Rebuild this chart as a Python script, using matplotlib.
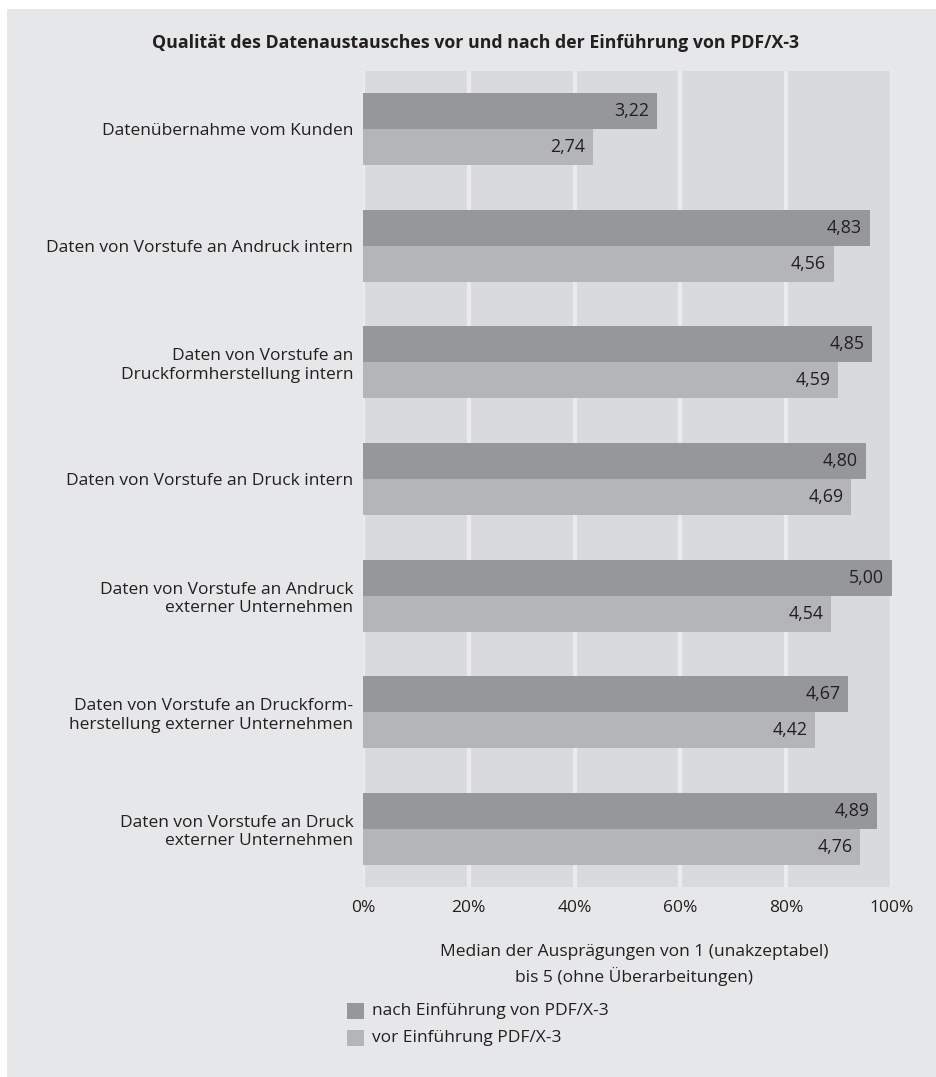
import matplotlib.pyplot as plt
from matplotlib.patches import Rectangle
import numpy as np

plt.rcParams['font.family'] = ['Open Sans', 'DejaVu Sans']

categories = [
    'Datenübernahme vom Kunden',
    'Daten von Vorstufe an Andruck intern',
    'Daten von Vorstufe an\nDruckformherstellung intern',
    'Daten von Vorstufe an Druck intern',
    'Daten von Vorstufe an Andruck\nexterner Unternehmen',
    'Daten von Vorstufe an Druckform-\nherstellung externer Unternehmen',
    'Daten von Vorstufe an Druck\nexterner Unternehmen',
]
nach = [3.22, 4.83, 4.85, 4.80, 5.00, 4.67, 4.89]
vor = [2.74, 4.56, 4.59, 4.69, 4.54, 4.42, 4.76]
xticks = [0, 20, 40, 60, 80, 100]
legend_labels = ['nach Einführung von PDF/X-3', 'vor Einführung PDF/X-3']

W, H = 936, 1077
fig_bg = '#e6e7e8'
ax_bg = '#d9dadc'
dark = '#96979a'
light = '#b4b5b7'
txt = '#231f20'

fig = plt.figure(figsize=(W / 100, H / 100), dpi=100)
fig.patch.set_facecolor('white')
fig.patches.append(Rectangle((7 / W, 0), 1 - 7 / W, 1 - 9 / H,
                             transform=fig.transFigure, facecolor=fig_bg,
                             edgecolor='none', zorder=-10))

left, right, top, bottom = 363, 892, 71, 887
ax = fig.add_axes([left / W, 1 - bottom / H, (right - left) / W, (bottom - top) / H])
ax.set_facecolor(ax_bg)

# bar length = (median - 1) / 4 in percent
pct_nach = [(v - 1) / 4 * 100 for v in nach]
pct_vor = [(v - 1) / 4 * 100 for v in vor]

y = np.arange(len(categories))
h = 0.309
b1 = ax.barh(y - h / 2, pct_nach, height=h, color=dark, zorder=3)
b2 = ax.barh(y + h / 2, pct_vor, height=h, color=light, zorder=3)

for bars, vals in ((b1, nach), (b2, vor)):
    for bar, v in zip(bars, vals):
        ax.annotate(f'{v:.2f}'.replace('.', ','),
                    (bar.get_width(), bar.get_y() + bar.get_height() / 2),
                    xytext=(-5.5, 0), textcoords='offset points',
                    ha='right', va='center', fontsize=12.8, color=txt, zorder=4)

ax.set_xlim(0, 100)
ax.set_ylim(len(categories) - 0.5, -0.5)
ax.set_xticks(xticks)
ax.set_xticklabels([f'{t}%' for t in xticks])
ax.set_yticks(y)
ax.set_yticklabels(categories, ha='right', multialignment='right')
ax.tick_params(length=0, labelsize=12.5, colors=txt)
ax.tick_params(axis='x', pad=9)
ax.tick_params(axis='y', pad=7)
ax.grid(axis='x', color='#ebebec', linewidth=3, zorder=1)
ax.grid(axis='y', visible=False)
for s in ax.spines.values():
    s.set_visible(False)

fig.text(476 / W, 1 - 43 / H,
         'Qualität des Datenaustausches vor und nach der Einführung von PDF/X-3',
         ha='center', va='center', fontsize=12.8, fontweight='bold', color=txt)

fig.text(634 / W, 1 - 965 / H,
         'Median der Ausprägungen von 1 (unakzeptabel)\nbis 5 (ohne Überarbeitungen)',
         ha='center', va='center', fontsize=12.5, color=txt, linespacing=1.45)

for i, (lab, col) in enumerate(zip(legend_labels, (dark, light))):
    yc = 1011 + i * 27
    fig.patches.append(Rectangle((347 / W, 1 - (yc + 8) / H), 17 / W, 16 / H,
                                 transform=fig.transFigure, facecolor=col,
                                 edgecolor='none'))
    fig.text(372 / W, 1 - yc / H, lab, ha='left', va='center',
             fontsize=12.5, color=txt)

fig.savefig('out.png', dpi=100, facecolor=fig.get_facecolor())
